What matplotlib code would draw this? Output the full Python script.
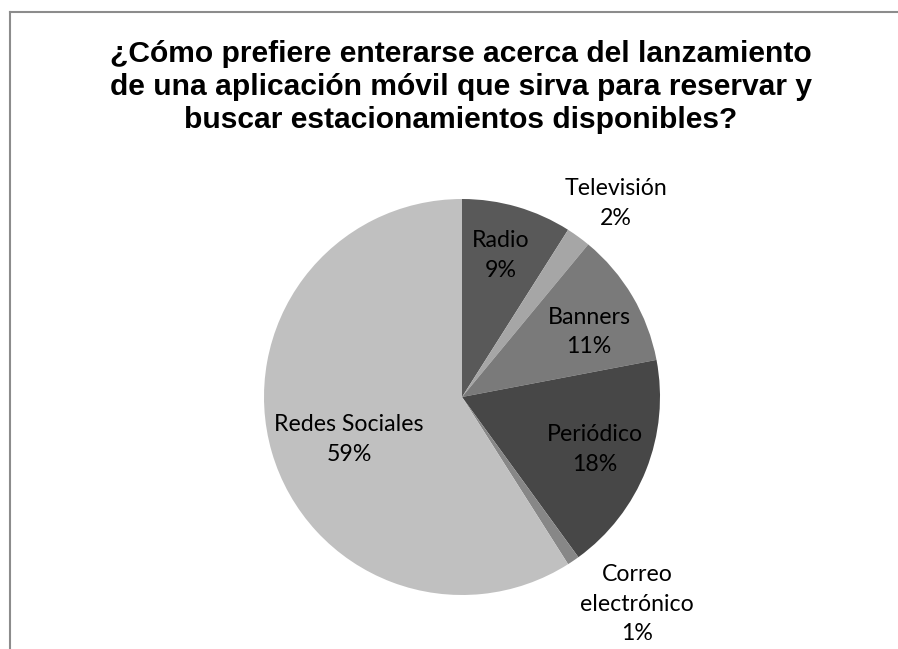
import matplotlib.pyplot as plt
import numpy as np

# Data
categories = ['Radio', 'Televisión', 'Banners', 'Periódico', 'Correo\nelectrónico', 'Redes Sociales']
values = [9, 2, 11, 18, 1, 59]
colors = ['#595959', '#a6a6a6', '#7a7a7a', '#474747', '#878787', '#c0c0c0']

# label placement (radius as fraction of R, angle offset in degrees)
label_r = [0.74, 1.25, 0.72, 0.72, 1.37, 0.61]
label_da = [-1, 2.5, 3.5, 0, -6, -4.5]

fig = plt.figure(figsize=(8.98, 6.49), dpi=100)

# frame around chart
fig.add_artist(plt.Line2D([9.5/898, 9.5/898], [0, 1 - 11.5/649], color='#8c8c8c', lw=1.5))
fig.add_artist(plt.Line2D([9.5/898, 1], [1 - 11.5/649, 1 - 11.5/649], color='#8c8c8c', lw=1.5))

R = 198
cx, cy = 462, 397
ax = fig.add_axes([(cx - R) / 898, (649 - cy - R) / 649, 2 * R / 898, 2 * R / 649])
wedges, _ = ax.pie(values, colors=colors, startangle=90, counterclock=False,
                   wedgeprops=dict(linewidth=0))
ax.set_xlim(-1, 1)
ax.set_ylim(-1, 1)
ax.set_aspect('equal')
ax.axis('off')

total = sum(values)
cum = np.cumsum([0] + values[:-1])
for i, (cat, v) in enumerate(zip(categories, values)):
    mid = (cum[i] + v / 2) / total * 360 + label_da[i]
    a = np.deg2rad(mid)
    x = label_r[i] * np.sin(a)
    y = label_r[i] * np.cos(a)
    ax.text(x, y, f'{cat}\n{v}%', ha='center', va='center', fontsize=16.7,
            family='Lato', linespacing=1.5, color='black', clip_on=False)

# baseline of the last title line
fig.text(0.513, 1 - 128 / 649, '¿Cómo prefiere enterarse acerca del lanzamiento\n'
         'de una aplicación móvil que sirva para reservar y\n'
         'buscar estacionamientos disponibles?',
         ha='center', va='baseline', fontsize=21.6, fontweight='bold',
         family='Liberation Sans', linespacing=1.22)

fig.savefig('out.png', dpi=100)
